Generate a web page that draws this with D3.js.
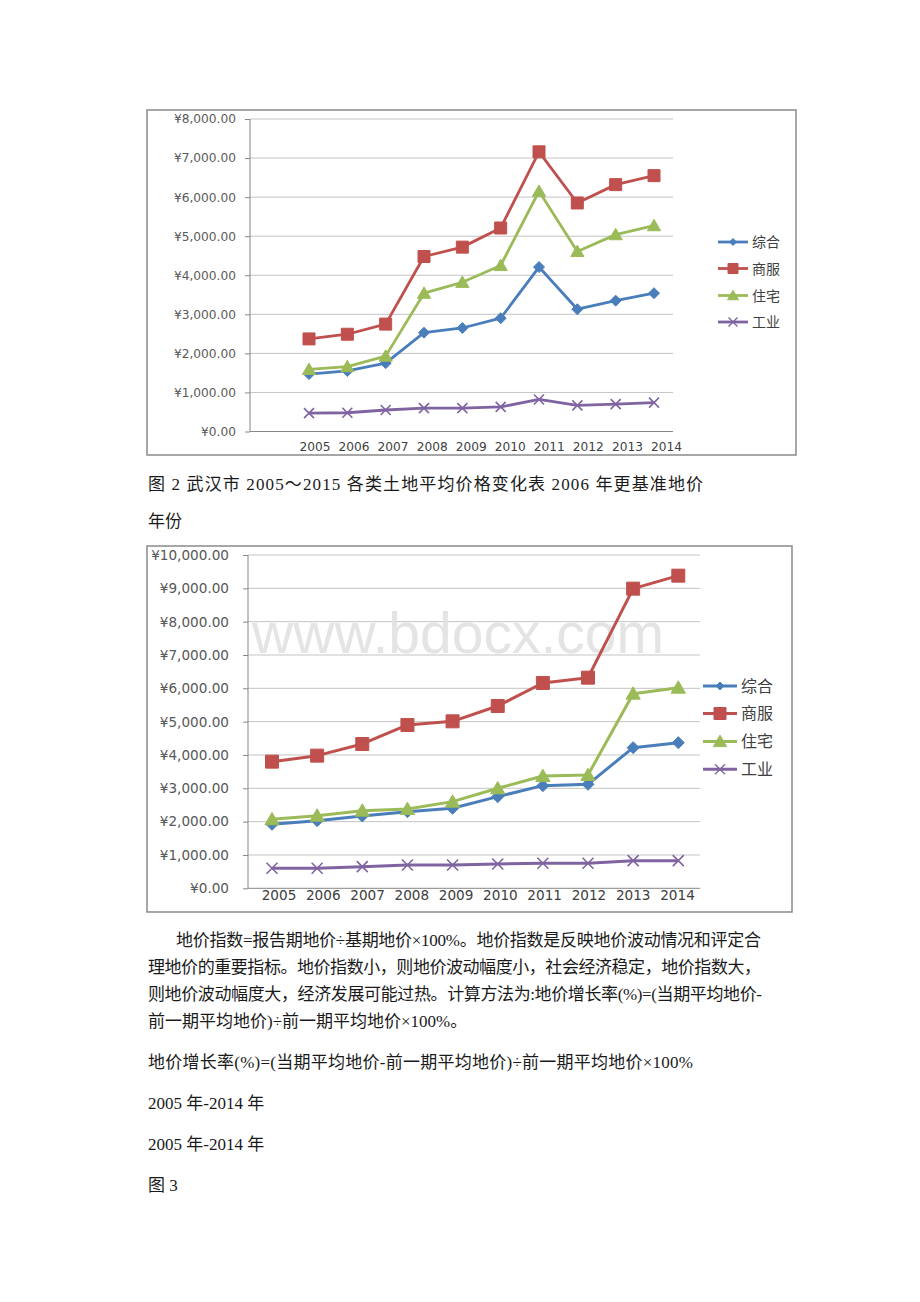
<!DOCTYPE html>
<html><head><meta charset="utf-8">
<script src="https://cdn.jsdelivr.net/npm/d3@7"></script>
<style>html,body{margin:0;padding:0;background:#fff;}svg{display:block;}</style>
</head><body>
<svg id="page" width="920" height="1302"></svg>
<script>
// ---------- data ----------
const years = ["2005","2006","2007","2008","2009","2010","2011","2012","2013","2014"];
const seriesNames = ["综合","商服","住宅","工业"];
const seriesColors = ["#4a7ebb","#c0504d","#9bbb59","#8064a2"];
const seriesMarkers = ["diamond","square","triangle","x"];

// chart 1 (图2)
const c1Zonghe  = [1470,1550,1750,2530,2650,2900,4210,3130,3350,3540];
const c1Shangfu = [2370,2490,2750,4480,4720,5210,7160,5850,6320,6550];
const c1Zhuzhai = [1590,1660,1930,3540,3820,4250,6150,4610,5040,5270];
const c1Gongye  = [470,480,550,600,600,630,820,670,700,740];
const c1Ticks = [0,1000,2000,3000,4000,5000,6000,7000,8000];

// chart 2
const c2Zonghe  = [1920,2030,2170,2300,2400,2750,3080,3120,4220,4370];
const c2Shangfu = [3800,3980,4330,4900,5010,5470,6160,6320,8990,9380];
const c2Zhuzhai = [2070,2180,2330,2380,2600,3000,3370,3400,5840,6020];
const c2Gongye  = [600,600,650,700,700,730,750,750,830,830];
const c2Ticks = [0,1000,2000,3000,4000,5000,6000,7000,8000,9000,10000];

const bodyLines = [
  {t:"图 2 武汉市 2005～2015 各类土地平均价格变化表 2006 年更基准地价", x:148, y:490, w:555},
  {t:"年份", x:148, y:527},
  {t:"地价指数=报告期地价÷基期地价×100%。地价指数是反映地价波动情况和评定合", x:176, y:946, w:585},
  {t:"理地价的重要指标。地价指数小，则地价波动幅度小，社会经济稳定，地价指数大，", x:148, y:973, w:613},
  {t:"则地价波动幅度大，经济发展可能过热。计算方法为:地价增长率(%)=(当期平均地价-", x:148, y:1000, w:614},
  {t:"前一期平均地价)÷前一期平均地价×100%。", x:148, y:1027},
  {t:"地价增长率(%)=(当期平均地价-前一期平均地价)÷前一期平均地价×100%", x:148, y:1068, w:545},
  {t:"2005 年-2014 年", x:148, y:1109},
  {t:"2005 年-2014 年", x:148, y:1150},
  {t:"图 3", x:148, y:1191}
];

const svg = d3.select("#page");
const numFont = "'DejaVu Sans','Noto Sans CJK SC',sans-serif";

function markerPath(type, r){
  switch(type){
    case "diamond": return `M0,${-r}L${r},0L0,${r}L${-r},0Z`;
    case "square": return `M${-r},${-r}H${r}V${r}H${-r}Z`;
    case "triangle": return `M0,${-r*1.05}L${r*1.1},${r*0.85}L${-r*1.1},${r*0.85}Z`;
    case "x": return `M${-r},${-r}L${r},${r}M${r},${-r}L${-r},${r}`;
  }
}

function drawChart(cfg){
  const g = svg.append("g");
  g.append("rect").attr("x",cfg.frame[0]).attr("y",cfg.frame[1])
    .attr("width",cfg.frame[2]-cfg.frame[0]).attr("height",cfg.frame[3]-cfg.frame[1])
    .attr("fill","#fff").attr("stroke","#8a8a8a").attr("stroke-width",1.5);

  const y = d3.scaleLinear().domain([0, cfg.ticks[cfg.ticks.length-1]]).range([cfg.y0, cfg.yTop]);
  const xm = d3.scalePoint().domain(years).range(cfg.xMarks);
  const xl = d3.scalePoint().domain(years).range(cfg.xLabels);

  // gridlines
  g.append("g").selectAll("line").data(cfg.ticks.filter(d=>d>0)).join("line")
    .attr("x1",cfg.xAxis).attr("x2",cfg.xRight)
    .attr("y1",d=>y(d)).attr("y2",d=>y(d))
    .attr("stroke","#c4c4c4").attr("stroke-width",1);

  if(cfg.watermark){
    g.append("text").attr("x",cfg.watermark.x).attr("y",cfg.watermark.y)
      .attr("text-anchor","middle").attr("font-family","'Liberation Sans',Arial,sans-serif")
      .attr("font-size",cfg.watermark.size).attr("fill","#e2e2e2").attr("opacity",0.9)
      .text("www.bdocx.com");
  }

  // y axis
  const yAxis = d3.axisLeft(y).tickValues(cfg.ticks).tickSize(5).tickPadding(cfg.yPad)
    .tickFormat(d=>"¥"+d3.format(",.2f")(d));
  const ya = g.append("g").attr("transform",`translate(${cfg.xAxis},0)`).call(yAxis);
  ya.select(".domain").attr("stroke","#868686").attr("d",`M0,${cfg.y0}V${cfg.yTop}`);
  ya.selectAll(".tick line").attr("stroke","#868686");
  ya.selectAll("text").attr("font-family",numFont).attr("font-size",cfg.fs).attr("fill","#595959");

  // x axis line
  g.append("line").attr("x1",cfg.xAxis).attr("x2",cfg.xRight).attr("y1",cfg.y0).attr("y2",cfg.y0)
    .attr("stroke","#868686").attr("stroke-width",1);
  g.append("g").selectAll("text").data(years).join("text")
    .attr("x",d=>xl(d)).attr("y",cfg.xLabelY).attr("text-anchor","middle")
    .attr("font-family",numFont).attr("font-size",cfg.fs).attr("fill","#404040").text(d=>d);

  // series
  cfg.series.forEach((vals,i)=>{
    const col = seriesColors[i];
    const line = d3.line().x((d,j)=>xm(years[j])).y(d=>y(d));
    g.append("path").datum(vals).attr("d",line).attr("fill","none")
      .attr("stroke",col).attr("stroke-width",cfg.lw).attr("stroke-linejoin","round");
    const mk = seriesMarkers[i];
    g.append("g").selectAll("path").data(vals).join("path")
      .attr("transform",(d,j)=>`translate(${xm(years[j])},${y(d)})`)
      .attr("d",markerPath(mk, cfg.mr[i]))
      .attr("fill", mk==="x" ? "none" : col)
      .attr("stroke", col).attr("stroke-width", mk==="x" ? 1.6 : 1);
  });

  // legend
  const lg = g.append("g");
  seriesNames.forEach((name,i)=>{
    const ly = cfg.legY[i];
    const col = seriesColors[i];
    lg.append("line").attr("x1",cfg.legX[0]).attr("x2",cfg.legX[1]).attr("y1",ly).attr("y2",ly)
      .attr("stroke",col).attr("stroke-width",cfg.lw);
    const mk = seriesMarkers[i];
    lg.append("path").attr("transform",`translate(${(cfg.legX[0]+cfg.legX[1])/2},${ly})`)
      .attr("d",markerPath(mk, cfg.lmr[i]))
      .attr("fill", mk==="x" ? "none" : col).attr("stroke",col).attr("stroke-width", mk==="x"?1.4:1);
    lg.append("text").attr("x",cfg.legX[1]+4).attr("y",ly).attr("dy","0.36em")
      .attr("font-family","'Noto Sans CJK SC',sans-serif").attr("font-size",cfg.legFs)
      .attr("fill","#404040").text(name);
  });
}

drawChart({
  frame:[147,110,796,455],
  ticks:c1Ticks, y0:431.5, yTop:119, xAxis:250, xRight:673,
  xMarks:[309,654], xLabels:[315,666.5], xLabelY:451, yPad:9,
  fs:12.2, lw:2.8, mr:[5.5,6,6,5], lmr:[3.5,5,5,4.5],
  series:[c1Zonghe,c1Shangfu,c1Zhuzhai,c1Gongye],
  legX:[718,748], legY:[242,268.5,295.5,322], legFs:14
});

drawChart({
  frame:[147,546,792,912],
  ticks:c2Ticks, y0:888.3, yTop:555, xAxis:248, xRight:700,
  xMarks:[272,678.3], xLabels:[279,677.5], xLabelY:899.5, yPad:14,
  fs:13.6, lw:3, mr:[6,6.5,6.5,5.5], lmr:[4,6,6,5],
  series:[c2Zonghe,c2Shangfu,c2Zhuzhai,c2Gongye],
  legX:[703,737], legY:[686,713.5,741.5,769.3], legFs:16,
  watermark:{x:458, y:653, size:57}
});

// body text
const tg = svg.append("g");
bodyLines.forEach(l=>{
  const t = tg.append("text").attr("x",l.x).attr("y",l.y)
    .attr("font-family","'Liberation Serif','Noto Sans CJK SC',serif")
    .attr("font-size",17).attr("fill","#1a1a1a").text(l.t);
  if(l.w){ t.attr("textLength",l.w).attr("lengthAdjust","spacing"); }
});
</script>
</body></html>
